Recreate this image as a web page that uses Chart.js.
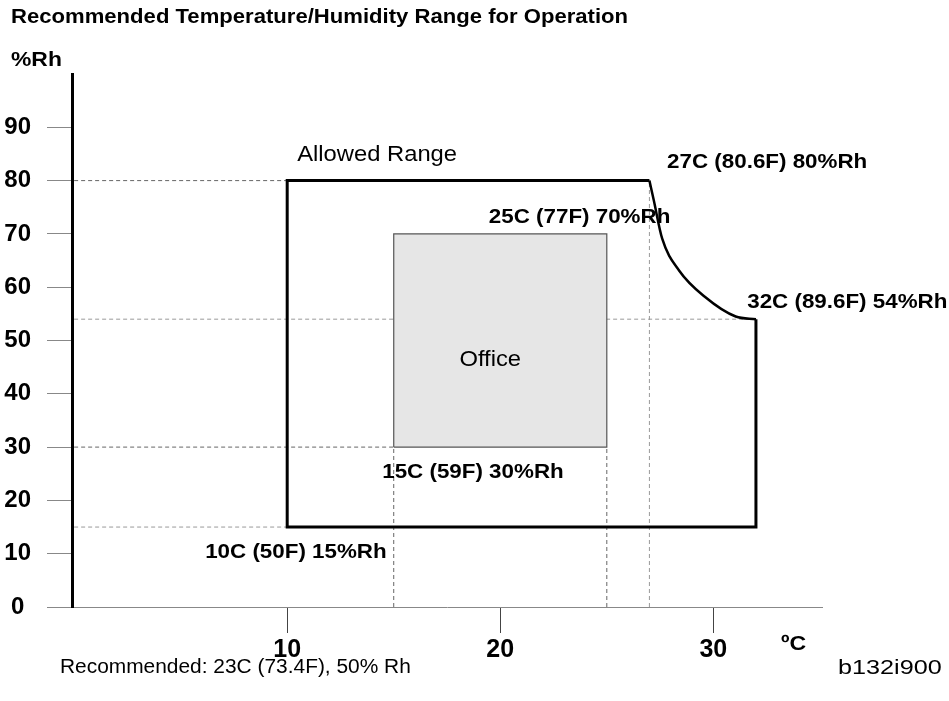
<!DOCTYPE html>
<html>
<head>
<meta charset="utf-8">
<title>Recommended Temperature/Humidity Range for Operation</title>
<script src="https://cdn.jsdelivr.net/npm/chart.js@4.4.1/dist/chart.umd.min.js"></script>
<style>
  html, body { margin: 0; padding: 0; background: #fff; }
  #wrap { width: 949px; height: 701px; position: relative; }
</style>
</head>
<body>
<div id="wrap"><canvas id="rangeChart" width="949" height="701"></canvas></div>
<script>
const FONT = '"Liberation Sans", Arial, Helvetica, sans-serif';

// axis ticks
const humidityTicks = [0, 10, 20, 30, 40, 50, 60, 70, 80, 90];
const tempTicks = [10, 20, 30];

// allowed operating range: straight edges + the curved upper-right edge
const allowedEdges = [
  { x: 32, y: 54 }, { x: 32, y: 15 }, { x: 10, y: 15 }, { x: 10, y: 80 }, { x: 27, y: 80 }
];
const allowedCurve = [
  { x: 27, y: 80 }, { x: 27.2, y: 76.4 }, { x: 27.6, y: 69.1 }, { x: 28.4, y: 63.1 },
  { x: 29.6, y: 58.2 }, { x: 31.05, y: 54.5 }, { x: 32, y: 54 }
];

// office range box
const officeBox = [
  { x: 15, y: 30 }, { x: 15, y: 70 }, { x: 25, y: 70 }, { x: 25, y: 30 }, { x: 15, y: 30 }
];

// dashed reference lines [from, to]
const guidesDark = [
  [[0, 80], [10, 80]],
  [[0, 30], [15, 30]],
  [[15, 0], [15, 30]],
  [[25, 0], [25, 30]]
];
const guidesLight = [
  [[0, 54], [32, 54]],
  [[0, 15], [10, 15]],
  [[27, 0], [27, 80]]
];

// corner labels
const cornerLabels = [
  { text: '27C (80.6F) 80%Rh', x: 27.83, y: 83.4, align: 'left' },
  { text: '25C (77F) 70%Rh', x: 27.98, y: 73.1, align: 'right' },
  { text: '32C (89.6F) 54%Rh', x: 31.59, y: 57.2, align: 'left' },
  { text: '15C (59F) 30%Rh', x: 14.46, y: 25.3, align: 'left' },
  { text: '10C (50F) 15%Rh', x: 6.15, y: 10.3, align: 'left' }
];
const areaLabels = [
  { text: 'Allowed Range', x: 10.47, y: 84.75, align: 'left' },
  { text: 'Office', x: 19.53, y: 46.3, align: 'center' }
];

const X_MIN = -0.1;

function guideSets(list, color) {
  return list.map(seg => ({
    data: seg.map(p => ({ x: Math.max(p[0], X_MIN), y: p[1] })),
    borderColor: color,
    borderWidth: 1,
    borderDash: [4, 3],
    pointRadius: 0,
    showLine: true,
    fill: false,
    order: 5
  }));
}

// text drawn slightly wider than the font's natural width
function wideText(ctx, text, x, y, font, align, sx) {
  ctx.save();
  ctx.font = font;
  ctx.textAlign = align;
  ctx.translate(x, y);
  ctx.scale(sx, 1);
  ctx.fillText(text, 0, 0);
  ctx.restore();
}

const textPlugin = {
  id: 'chartText',
  afterDraw(chart) {
    const ctx = chart.ctx;
    const xs = chart.scales.x, ys = chart.scales.y;
    ctx.save();
    ctx.fillStyle = '#000';
    ctx.textBaseline = 'middle';

    wideText(ctx, 'Recommended Temperature/Humidity Range for Operation', 11, 18,
      'bold 19.5px ' + FONT, 'left', 1.133);
    wideText(ctx, '%Rh', 11, 60, 'bold 21px ' + FONT, 'left', 1.09);
    wideText(ctx, 'ºC', 781, 644, 'bold 21px ' + FONT, 'left', 1.1);

    cornerLabels.forEach(l => {
      wideText(ctx, l.text, xs.getPixelForValue(l.x), ys.getPixelForValue(l.y),
        'bold 21px ' + FONT, l.align, 1.065);
    });
    areaLabels.forEach(l => {
      wideText(ctx, l.text, xs.getPixelForValue(l.x), ys.getPixelForValue(l.y),
        '22px ' + FONT, l.align, 1.08);
    });

    wideText(ctx, 'Recommended: 23C (73.4F), 50% Rh', 60, 667, '20px ' + FONT, 'left', 1.045);
    wideText(ctx, 'b132i900', 838, 668, '21px ' + FONT, 'left', 1.2);
    ctx.restore();
  }
};

new Chart(document.getElementById('rangeChart'), {
  type: 'scatter',
  data: {
    datasets: [
      {
        data: allowedEdges,
        borderColor: '#000',
        borderWidth: 3,
        pointRadius: 0,
        showLine: true,
        tension: 0,
        order: 1
      },
      {
        data: allowedCurve,
        borderColor: '#000',
        borderWidth: 2.5,
        pointRadius: 0,
        showLine: true,
        cubicInterpolationMode: 'monotone',
        order: 1
      },
      {
        data: officeBox,
        borderColor: '#555',
        borderWidth: 1.2,
        backgroundColor: '#e6e6e6',
        pointRadius: 0,
        showLine: true,
        fill: 'shape',
        order: 3
      },
      ...guideSets(guidesDark, '#666'),
      ...guideSets(guidesLight, '#999')
    ]
  },
  options: {
    responsive: false,
    animation: false,
    layout: { padding: { left: 0, right: 127, top: 74, bottom: 0 } },
    plugins: {
      legend: { display: false },
      tooltip: { enabled: false },
      title: { display: false }
    },
    scales: {
      x: {
        type: 'linear',
        min: X_MIN,
        max: 35.1,
        afterBuildTicks: s => { s.ticks = tempTicks.map(v => ({ value: v })); },
        afterFit: s => { s.height = 94; },
        border: { color: '#888', width: 1 },
        grid: { drawOnChartArea: false, tickLength: 26, color: '#444' },
        ticks: {
          padding: 2, color: '#000', maxRotation: 0,
          font: { family: FONT, size: 25, weight: 'bold' }
        }
      },
      y: {
        type: 'linear',
        min: 0,
        max: 100,
        afterBuildTicks: s => { s.ticks = humidityTicks.map(v => ({ value: v })); },
        afterFit: s => { s.width = 72; },
        border: { color: '#000', width: 3 },
        grid: { drawOnChartArea: false, tickLength: 25, color: '#888' },
        ticks: {
          crossAlign: 'center', padding: 16, color: '#000',
          font: { family: FONT, size: 24, weight: 'bold' }
        }
      }
    }
  },
  plugins: [textPlugin]
});
</script>
</body>
</html>
